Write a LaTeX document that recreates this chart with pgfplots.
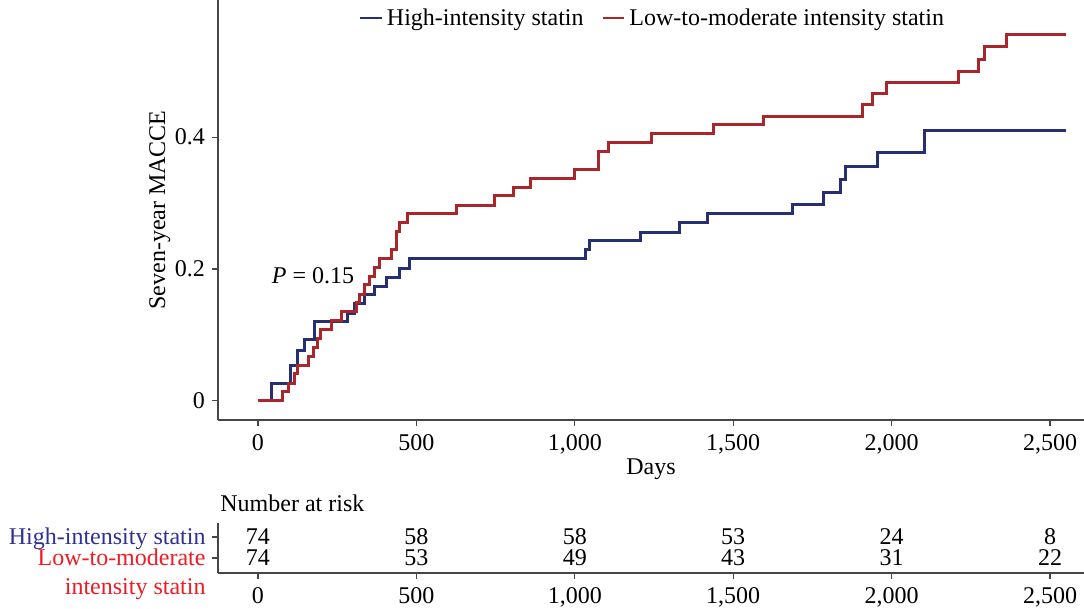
\documentclass[border=0pt]{standalone}
\usepackage{fontspec}
\setmainfont{Liberation Serif}
\usepackage{pgfplots}
\usepackage{pgfplotstable}
\pgfplotsset{compat=1.18}
\definecolor{kmblue}{RGB}{38,47,114}
\definecolor{kmred}{RGB}{170,38,43}
\definecolor{lblblue}{RGB}{46,49,146}
\definecolor{lblred}{RGB}{237,28,36}
\definecolor{spine}{RGB}{70,70,70}

\pgfplotstableread{
d s
0 0
44 0.027
103 0.053
126 0.077
147 0.093
179 0.120
284 0.133
305 0.148
337 0.161
368 0.174
405 0.187
447 0.201
479 0.216
1035 0.230
1045 0.243
1206 0.256
1330 0.270
1419 0.284
1688 0.298
1784 0.316
1837 0.335
1853 0.355
1955 0.377
2105 0.410
2550 0.410
}\tblblue

\pgfplotstableread{
d s
0 0
76 0.0135
98 0.027
114 0.041
126 0.054
160 0.068
174 0.081
187 0.095
198 0.108
231 0.122
263 0.135
310 0.149
321 0.162
337 0.176
352 0.189
368 0.203
384 0.216
421 0.230
437 0.257
448 0.270
473 0.284
626 0.297
747 0.311
806 0.324
859 0.338
998 0.351
1074 0.378
1106 0.392
1243 0.405
1437 0.419
1595 0.432
1909 0.449
1940 0.466
1985 0.483
2211 0.500
2274 0.518
2292 0.537
2363 0.555
2550 0.555
}\tblred

\pgfplotstableread{
d n r
0 74 2
500 58 2
1000 58 2
1500 53 2
2000 24 2
2500 8 2
}\riskblue

\pgfplotstableread{
d n r
0 74 1
500 53 1
1000 49 1
1500 43 1
2000 31 1
2500 22 1
}\riskred

\begin{document}
\begin{tikzpicture}[font=\fontsize{12}{14}\selectfont]
\useasboundingbox (0,0) rectangle (542pt,304.5pt);
\begin{axis}[
  at={(109pt,94.5pt)}, anchor=south west,
  scale only axis, width=433pt, height=210pt,
  xmin=-126, xmax=2607, ymin=-0.029, ymax=0.608,
  axis lines*=left,
  axis line style={spine, line width=0.6pt},
  tick align=outside, tick style={spine, line width=0.6pt}, major tick length=3pt,
  /pgf/number format/assume math mode=true,
  xtick={0,500,1000,1500,2000,2500},
  xticklabels={0,500,{1,000},{1,500},{2,000},{2,500}},
  ytick={0,0.2,0.4}, yticklabels={0,0.2,0.4},
  xlabel={Days}, ylabel={Seven-year MACCE},
  xlabel style={yshift=4.5pt},
  ylabel style={yshift=-4.5pt},
  xticklabel style={yshift=-0.5pt},
  legend style={at={(0.503,0.995)}, anchor=north, draw=none, fill=none,
    legend columns=2, inner sep=1pt,
    /tikz/every even column/.append style={column sep=7pt}},
  legend cell align=left,
  legend image code/.code={\draw[#1, line width=1.1pt] (0cm,0cm) -- (0.38cm,0cm);},
  clip=false,
]
\addplot[const plot, kmblue, line width=1.5pt] table[x=d, y=s] {\tblblue};
\addlegendentry{High-intensity statin}
\addplot[const plot, kmred, line width=1.5pt] table[x=d, y=s] {\tblred};
\addlegendentry{Low-to-moderate intensity statin}
\node[anchor=west] at (axis cs:22,0.19) {\textit{P} = 0.15};
\end{axis}

\begin{axis}[
  at={(109pt,18pt)}, anchor=south west,
  scale only axis, width=433pt, height=25pt,
  xmin=-126, xmax=2607, ymin=0.286, ymax=2.667,
  axis lines*=left,
  axis line style={spine, line width=0.6pt},
  tick align=outside, tick style={spine, line width=0.6pt}, major tick length=3pt,
  /pgf/number format/assume math mode=true,
  xtick={0,500,1000,1500,2000,2500},
  xticklabels={0,500,{1,000},{1,500},{2,000},{2,500}},
  xticklabel style={yshift=-0.5pt},
  ytick={1,2},
  yticklabels={{\color{lblred}\begin{tabular}[t]{@{}r@{}}Low-to-moderate\\[0.5pt] intensity statin\end{tabular}},{\color{lblblue}High-intensity statin}},
  yticklabel style={anchor=base east, yshift=-4pt, xshift=0.3pt},
  title={Number at risk},
  title style={at={(0,1)}, anchor=south west, inner sep=0pt, yshift=-0.5pt, xshift=1pt},
  nodes near coords, point meta=explicit symbolic,
  nodes near coords align={center},
  every node near coord/.append style={black, font=\fontsize{12}{14}\selectfont},
  clip=false,
]
\addplot[draw=none, mark=none] table[x=d, y=r, meta=n] {\riskblue};
\addplot[draw=none, mark=none] table[x=d, y=r, meta=n] {\riskred};
\end{axis}
\end{tikzpicture}
\end{document}
